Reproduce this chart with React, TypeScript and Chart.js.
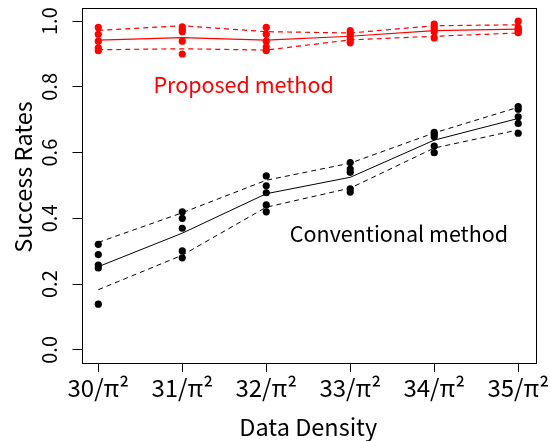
import React, { useEffect, useRef } from "react";
import { Chart, registerables } from "chart.js";

Chart.register(...registerables);

const DENSITIES = [30, 31, 32, 33, 34, 35];
const X_TICK_LABELS = ["30/π²", "31/π²", "32/π²", "33/π²", "34/π²", "35/π²"];
const Y_TICKS = [0, 0.2, 0.4, 0.6, 0.8, 1.0];
const Y_TICK_LABELS = ["0.0", "0.2", "0.4", "0.6", "0.8", "1.0"];

// individual trial results per density (rows follow DENSITIES)
const PROPOSED_POINTS = [
  [0.981, 0.96, 0.939, 0.919, 0.91],
  [0.983, 0.975, 0.968, 0.939, 0.9],
  [0.981, 0.96, 0.939, 0.921, 0.91],
  [0.971, 0.962, 0.954, 0.944, 0.934],
  [0.991, 0.983, 0.976, 0.968, 0.949],
  [1.0, 0.981, 0.975, 0.97, 0.965],
];
const PROPOSED_MEAN = [0.942, 0.95, 0.942, 0.954, 0.971, 0.976];
const PROPOSED_UPPER = [0.972, 0.986, 0.968, 0.964, 0.986, 0.989];
const PROPOSED_LOWER = [0.913, 0.916, 0.912, 0.943, 0.954, 0.964];

const CONVENTIONAL_POINTS = [
  [0.321, 0.29, 0.258, 0.249, 0.139],
  [0.42, 0.4, 0.37, 0.301, 0.28],
  [0.529, 0.499, 0.478, 0.441, 0.42],
  [0.57, 0.55, 0.54, 0.49, 0.48],
  [0.662, 0.655, 0.648, 0.62, 0.6],
  [0.74, 0.732, 0.709, 0.689, 0.659],
];
const CONVENTIONAL_MEAN = [0.253, 0.355, 0.475, 0.525, 0.638, 0.704];
const CONVENTIONAL_UPPER = [0.327, 0.417, 0.516, 0.568, 0.66, 0.738];
const CONVENTIONAL_LOWER = [0.183, 0.288, 0.434, 0.492, 0.614, 0.669];

const FONT = '"Noto Sans CJK JP", "Noto Sans", sans-serif';
const RED = "#ff0000";
const BLACK = "#000000";

const toXY = (vals: number[]) => vals.map((v, i) => ({ x: DENSITIES[i], y: v }));
const pointsXY = (rows: number[][]) =>
  rows.flatMap((row, i) => row.map((v) => ({ x: DENSITIES[i], y: v })));

const annotatePlugin = {
  id: "frameAndLabels",
  afterDatasetsDraw(chart: any) {
    const { ctx, chartArea: a, scales } = chart;
    ctx.save();
    ctx.strokeStyle = BLACK;
    ctx.lineWidth = 1;
    ctx.strokeRect(
      Math.round(a.left) + 0.5,
      Math.round(a.top) + 0.5,
      Math.round(a.right - a.left),
      Math.round(a.bottom - a.top)
    );
    ctx.font = `21.5px ${FONT}`;
    ctx.textAlign = "center";
    ctx.textBaseline = "middle";
    ctx.fillStyle = RED;
    ctx.fillText("Proposed method", scales.x.getPixelForValue(31.73), scales.y.getPixelForValue(0.806));
    ctx.fillStyle = BLACK;
    ctx.fillText("Conventional method", scales.x.getPixelForValue(33.58), scales.y.getPixelForValue(0.354));
    ctx.restore();
  },
};

export default function App() {
  const ref = useRef<HTMLCanvasElement | null>(null);
  useEffect(() => {
    document.body.style.margin = "0";
    if (!ref.current) return;
    const lineDs = (data: number[], color: string, width: number, dashed: boolean) => ({
      type: "line" as const,
      data: toXY(data),
      borderColor: color,
      borderWidth: width,
      borderDash: dashed ? [5, 4] : [],
      pointRadius: 0,
      fill: false,
      tension: 0,
    });
    const pointDs = (rows: number[][], color: string) => ({
      type: "line" as const,
      data: pointsXY(rows),
      showLine: false,
      pointRadius: 3.6,
      pointBackgroundColor: color,
      pointBorderWidth: 0,
      borderColor: color,
    });
    const chart = new Chart(ref.current, {
      type: "line",
      data: {
        datasets: [
          pointDs(PROPOSED_POINTS, RED),
          lineDs(PROPOSED_MEAN, RED, 1.2, false),
          lineDs(PROPOSED_UPPER, RED, 1.2, true),
          lineDs(PROPOSED_LOWER, RED, 1.2, true),
          pointDs(CONVENTIONAL_POINTS, BLACK),
          lineDs(CONVENTIONAL_MEAN, BLACK, 1, false),
          lineDs(CONVENTIONAL_UPPER, BLACK, 1, true),
          lineDs(CONVENTIONAL_LOWER, BLACK, 1, true),
        ] as any,
      },
      options: {
        animation: false,
        responsive: false,
        events: [],
        layout: { padding: { top: 8, right: 16, left: 0, bottom: 0 } },
        plugins: { legend: { display: false }, tooltip: { enabled: false } },
        scales: {
          x: {
            type: "linear",
            min: 29.8,
            max: 35.2,
            afterBuildTicks: (s: any) => {
              s.ticks = DENSITIES.map((v) => ({ value: v }));
            },
            afterFit: (s: any) => {
              s.height = 78;
              s.paddingLeft = 0;
              s.paddingRight = 0;
            },
            border: { display: false },
            grid: { drawOnChartArea: false, drawTicks: true, tickLength: 9, color: BLACK, lineWidth: 1 },
            ticks: {
              autoSkip: false,
              maxRotation: 0,
              minRotation: 0,
              padding: 1,
              color: BLACK,
              font: { family: FONT, size: 24 },
              callback: (v: any) => {
                const i = DENSITIES.indexOf(Number(v));
                return i >= 0 ? X_TICK_LABELS[i] : "";
              },
            },
            title: {
              display: true,
              text: "Data Density",
              color: BLACK,
              font: { family: FONT, size: 23.5, lineHeight: 1.2 },
              padding: { top: 0, bottom: 0 },
            },
          },
          y: {
            type: "linear",
            min: -0.04,
            max: 1.04,
            afterBuildTicks: (s: any) => {
              s.ticks = Y_TICKS.map((v) => ({ value: v }));
            },
            afterFit: (s: any) => {
              s.width = 81.5;
              s.paddingTop = 0;
              s.paddingBottom = 0;
            },
            border: { display: false },
            grid: { drawOnChartArea: false, drawTicks: true, tickLength: 9, color: BLACK, lineWidth: 1 },
            ticks: {
              autoSkip: false,
              minRotation: 90,
              maxRotation: 90,
              crossAlign: "center",
              padding: 9,
              color: BLACK,
              font: { family: FONT, size: 20 },
              callback: (v: any) => {
                const i = Y_TICKS.findIndex((t) => Math.abs(t - Number(v)) < 1e-9);
                return i >= 0 ? Y_TICK_LABELS[i] : "";
              },
            },
            title: {
              display: true,
              text: " \u2002Success Rates",
              color: BLACK,
              font: { family: FONT, size: 23.5, lineHeight: 1.2 },
              padding: { top: 9, bottom: 0 },
            },
          },
        },
      },
      plugins: [annotatePlugin],
    });
    return () => chart.destroy();
  }, []);
  return <canvas ref={ref} width={551} height={441} style={{ display: "block" }} />;
}
